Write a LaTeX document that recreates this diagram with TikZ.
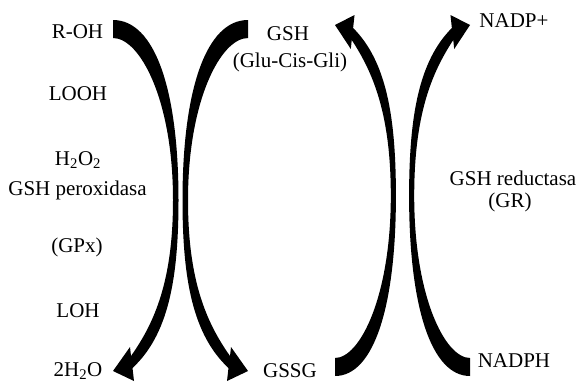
\documentclass[tikz,border=0pt]{standalone}
\usepackage{fontspec}
\setmainfont{Liberation Serif}
\newcommand\curvedarrowshape{%
  \fill[black] (0,20) -- (0,38)
    .. controls (27,38) and (60,100) .. (60,200)
    .. controls (60,280) and (42,322) .. (18,356)
    -- (17,347) -- (0,371) -- (21,381) -- (19.5,368)
    .. controls (55,335) and (65.5,280) .. (65.5,200)
    .. controls (65.5,90) and (42,20) .. (0,20) -- cycle;%
}
\begin{document}
\begin{tikzpicture}[x=1pt,y=-1pt,
  lbl/.style={inner sep=0pt, anchor=base, font=\fontsize{21}{25}\selectfont}]
\useasboundingbox (0,0) rectangle (580,381);
% arrows
\begin{scope}[shift={(113,0)}]
  \curvedarrowshape
\end{scope}
\begin{scope}[shift={(248,0)}, xscale=-1]
  \curvedarrowshape
\end{scope}
\begin{scope}[shift={(335,396)}, xscale=0.93, yscale=-1]
  \curvedarrowshape
\end{scope}
\begin{scope}[shift={(470,396)}, xscale=-0.93, yscale=-1]
  \curvedarrowshape
\end{scope}
% left column
\node[lbl] (roh)  at (77.5,38)  {R-OH};
\node[lbl] (looh) at (78,100)   {LOOH};
\node[lbl] (hoo)  at (78,165)   {H\textsubscript{2}O\textsubscript{2}};
\node[lbl] (gpx)  at (77.5,195) {GSH peroxidasa};
\node[lbl] (gpxa) at (77,252)   {(GPx)};
\node[lbl] (loh)  at (78,317)   {LOH};
\node[lbl] (hho)  at (78,376)   {2H\textsubscript{2}O};
% middle column
\node[lbl] (gsh)  at (288,40)   {GSH};
\node[lbl] (glu)  at (290,67)   {(Glu-Cis-Gli)};
\node[lbl] (gssg) at (290,377)  {GSSG};
% right column
\node[lbl] (nadpp) at (514,27)  {NADP+};
\node[lbl] (gr)    at (513,185) {GSH reductasa};
\node[lbl] (gra)   at (510,207) {(GR)};
\node[lbl] (nadph) at (514,367) {NADPH};
\end{tikzpicture}
\end{document}
